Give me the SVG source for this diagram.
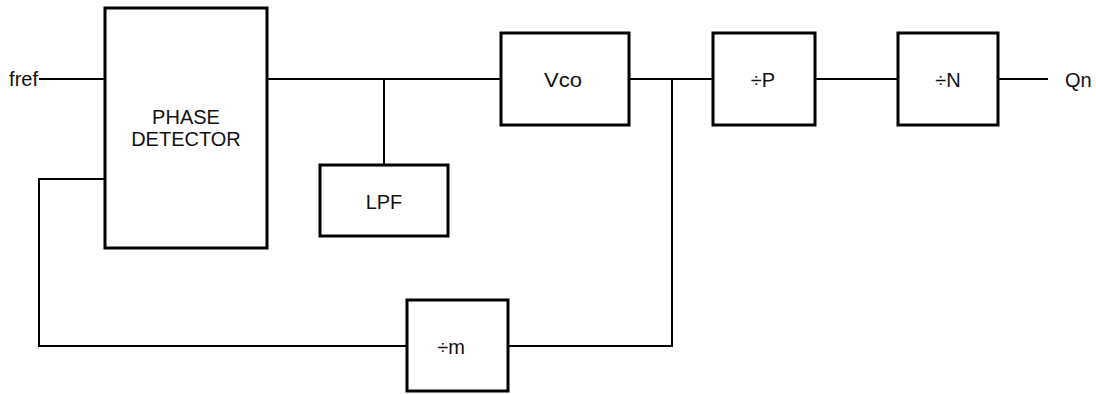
<svg xmlns="http://www.w3.org/2000/svg" width="1096" height="394" viewBox="0 0 1096 394">
<style>
.box{fill:#fff;stroke:#000;stroke-width:3}
.wire{fill:none;stroke:#000;stroke-width:2}
text{font-family:"Liberation Sans",Arial,sans-serif;font-size:20px;fill:#111}
.c{text-anchor:middle}
</style>
<rect width="1096" height="394" fill="#fff"/>
<g id="connectors">
<path class="wire" d="M39 79H105"/>
<path class="wire" d="M267 79H501"/>
<path class="wire" d="M384 79V165"/>
<path class="wire" d="M629 79H713"/>
<path class="wire" d="M815 79H898"/>
<path class="wire" d="M998 79H1048"/>
<path class="wire" d="M672 79V346H508"/>
<path class="wire" d="M407 346H39V179H105"/>
</g>
<g id="fref"><text x="38" y="86" text-anchor="end">fref</text></g>
<g id="phase-detector">
<rect class="box" x="105" y="8" width="162" height="240"/>
<text class="c" x="186" y="124">PHASE</text>
<text class="c" x="186" y="146">DETECTOR</text>
</g>
<g id="lpf">
<rect class="box" x="320" y="165" width="128" height="71"/>
<text class="c" x="384" y="209">LPF</text>
</g>
<g id="vco">
<rect class="box" x="501" y="33" width="128" height="92"/>
<text class="c" x="563" y="87" font-size="18" textLength="38" lengthAdjust="spacingAndGlyphs">Vco</text>
</g>
<g id="div-p">
<rect class="box" x="713" y="33" width="102" height="92"/>
<text class="c" x="763" y="87">÷P</text>
</g>
<g id="div-n">
<rect class="box" x="898" y="33" width="100" height="92"/>
<text class="c" x="948" y="87">÷N</text>
</g>
<g id="qn"><text x="1065" y="87">Qn</text></g>
<g id="div-m">
<rect class="box" x="407" y="300" width="101" height="91"/>
<text class="c" x="451" y="354">÷m</text>
</g>
</svg>
